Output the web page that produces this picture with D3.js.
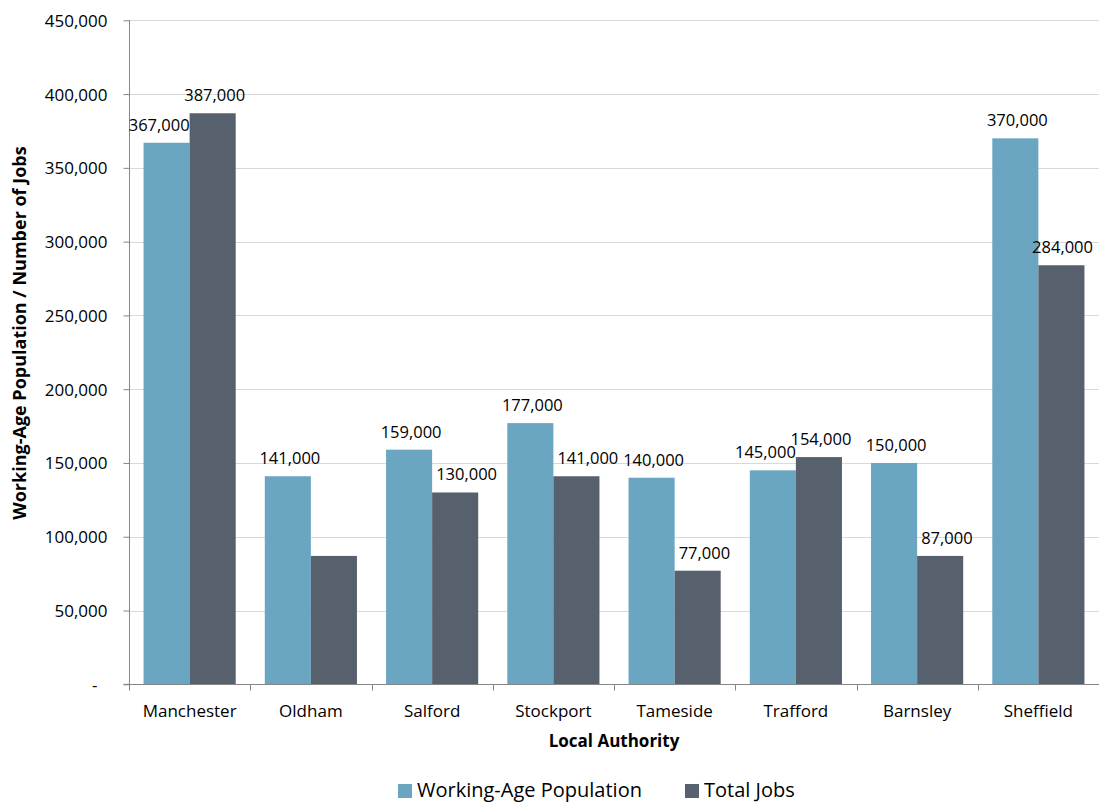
<!DOCTYPE html>
<html>
<head>
<meta charset="utf-8">
<script src="https://cdn.jsdelivr.net/npm/d3@7"></script>
<style>
  html, body { margin: 0; padding: 0; background: #ffffff; }
  svg { display: block; font-family: "Open Sans", "Noto Sans", sans-serif; }
</style>
</head>
<body>
<svg id="chart" width="1099" height="804"></svg>
<script>
const categories = ["Manchester", "Oldham", "Salford", "Stockport", "Tameside", "Trafford", "Barnsley", "Sheffield"];
const seriesNames = ["Working-Age Population", "Total Jobs"];
const population = [367000, 141000, 159000, 177000, 140000, 145000, 150000, 370000];
const jobs = [387000, 87000, 130000, 141000, 77000, 154000, 87000, 284000];
const jobsLabelShown = [true, false, true, true, true, true, true, true];
const yTicks = [0, 50000, 100000, 150000, 200000, 250000, 300000, 350000, 400000, 450000];
const colors = ["#6aa5c1", "#57616d"];

(function () {
const W = 1099, H = 804;
const pL = 129, pR = 1099, pT = 20.3, pB = 684.3;
const svg = d3.select("#chart");

const x0 = d3.scaleBand().domain(categories).range([pL, pR]).padding(0);
const x1 = d3.scaleBand().domain(seriesNames)
  .range([x0.bandwidth() * 0.12, x0.bandwidth() * 0.88]).padding(0);
const y = d3.scaleLinear().domain([0, 450000]).range([pB, pT]);

const fmt = d3.format(",");

// gridlines
svg.append("g").selectAll("line").data(yTicks.filter(d => d > 0)).join("line")
  .attr("x1", pL).attr("x2", pR)
  .attr("y1", d => Math.round(y(d)) + 0.5).attr("y2", d => Math.round(y(d)) + 0.5)
  .attr("stroke", "#d9d9d9").attr("stroke-width", 1);

// bars
const rows = categories.map((c, i) => ({ c, i, vals: [population[i], jobs[i]] }));
const groups = svg.append("g").selectAll("g").data(rows).join("g")
  .attr("transform", d => `translate(${x0(d.c)},0)`);
groups.selectAll("rect").data(d => d.vals.map((v, s) => ({ v, s, name: seriesNames[s] }))).join("rect")
  .attr("x", d => x1(d.name)).attr("width", x1.bandwidth())
  .attr("y", d => y(d.v)).attr("height", d => y(0) - y(d.v))
  .attr("fill", d => colors[d.s]);

// y axis
const yAxis = d3.axisLeft(y).tickValues(yTicks).tickSize(6).tickPadding(16)
  .tickFormat(d => d === 0 ? "-" : fmt(d));
const gy = svg.append("g").attr("transform", `translate(${pL + 0.5},0)`).call(yAxis);
gy.select(".domain").attr("stroke", "#868686").attr("d", `M-6,${pB}H0V${pT}`);
gy.selectAll(".tick line").attr("stroke", "#868686");
gy.selectAll(".tick text").attr("font-size", "17px").attr("fill", "#000")
  .attr("font-family", "Open Sans").attr("dy", "0.35em");
gy.selectAll(".tick text").filter(d => d === 0).attr("dx", "-10");

// x axis
const gx = svg.append("g").attr("transform", `translate(0,${Math.round(pB) + 0.5})`);
gx.append("line").attr("x1", pL).attr("x2", pR).attr("stroke", "#868686");
const boundaries = categories.map(c => x0(c)).concat([pR]);
gx.selectAll("line.tk").data(boundaries).join("line").attr("class", "tk")
  .attr("x1", d => Math.round(d) + 0.5).attr("x2", d => Math.round(d) + 0.5)
  .attr("y1", 0).attr("y2", 6).attr("stroke", "#868686");
gx.selectAll("text").data(categories).join("text")
  .attr("x", d => x0(d) + x0.bandwidth() / 2).attr("y", 32)
  .attr("text-anchor", "middle").attr("font-size", "17px").attr("fill", "#000")
  .text(d => d);

// data labels
rows.forEach(r => {
  r.vals.forEach((v, s) => {
    if (s === 1 && !jobsLabelShown[r.i]) return;
    const bx = x0(r.c) + x1(seriesNames[s]);
    const t = svg.append("text")
      .attr("x", bx + x1.bandwidth() / 2 + 2).attr("y", y(v) - 12)
      .attr("text-anchor", "middle").attr("font-size", "16.5px").attr("fill", "#000")
      .text(fmt(v));
    const w = t.node().getComputedTextLength();
    let cx = bx + x1.bandwidth() / 2 + 2;
    const other = r.vals[1 - s];
    if (s === 0 && other > v) {
      const jobsLeft = x0(r.c) + x1(seriesNames[1]);
      if (cx + w / 2 > jobsLeft) cx = jobsLeft - w / 2;
    }
    if (s === 1 && other > v) {
      const popRight = x0(r.c) + x1(seriesNames[0]) + x1.bandwidth();
      if (cx - w / 2 < popRight + 4) cx = popRight + 4 + w / 2;
    }
    if (cx + w / 2 > W - 6) cx = W - 6 - w / 2;
    t.attr("x", cx);
  });
});

// axis titles
svg.append("text").attr("x", (pL + pR) / 2).attr("y", 747)
  .attr("text-anchor", "middle").attr("font-size", "17px").attr("font-weight", "bold")
  .attr("fill", "#000").text("Local Authority");
svg.append("text").attr("transform", `translate(26,333) rotate(-90)`)
  .attr("text-anchor", "middle").attr("font-size", "18px").attr("font-weight", "bold")
  .attr("fill", "#000").text("Working-Age Population / Number of Jobs");

// legend
const legend = svg.append("g");
const legX = [398, 685];
seriesNames.forEach((n, s) => {
  legend.append("rect").attr("x", legX[s]).attr("y", 784).attr("width", 14).attr("height", 14)
    .attr("fill", colors[s]);
  legend.append("text").attr("x", legX[s] + 19).attr("y", 797)
    .attr("font-size", "20px").attr("fill", "#000").text(n);
});
})();
</script>
</body>
</html>
